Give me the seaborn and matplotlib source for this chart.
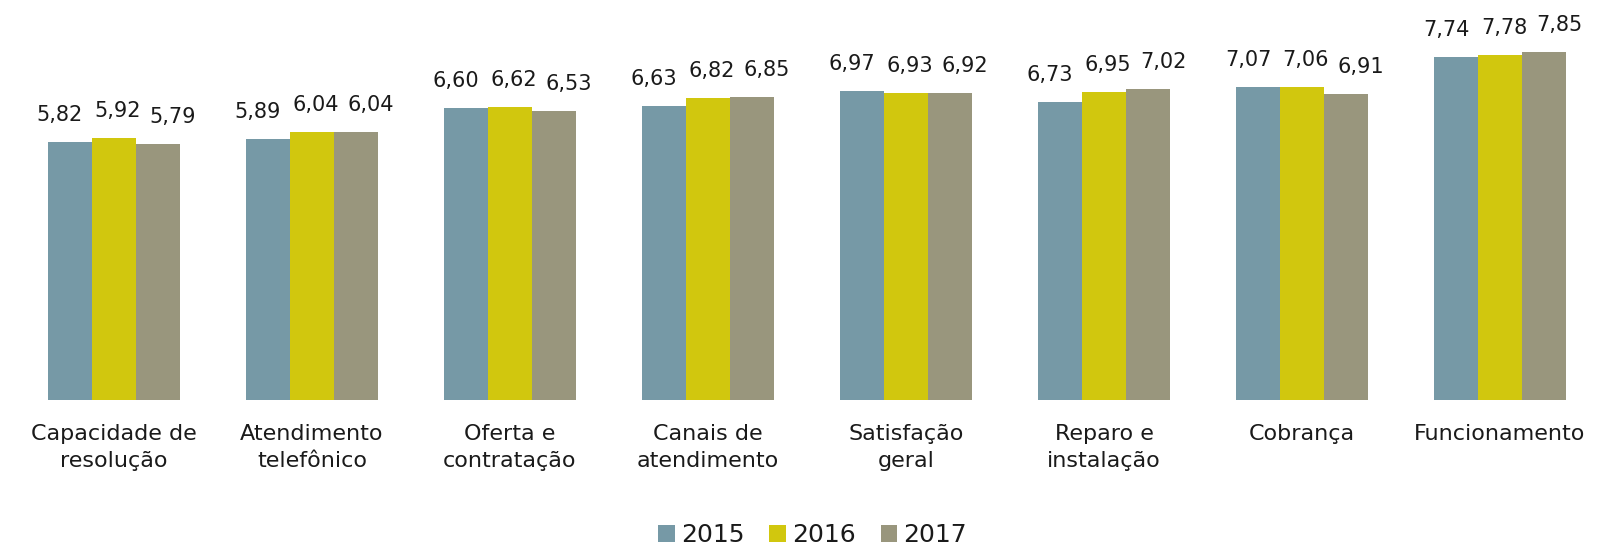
import matplotlib
matplotlib.use("Agg")
import matplotlib.pyplot as plt
import seaborn as sns
import pandas as pd

categories = ["Capacidade de\nresolução", "Atendimento\ntelefônico", "Oferta e\ncontratação",
              "Canais de\natendimento", "Satisfação\ngeral", "Reparo e\ninstalação",
              "Cobrança", "Funcionamento"]
years = ["2015", "2016", "2017"]
v2015 = [5.82, 5.89, 6.60, 6.63, 6.97, 6.73, 7.07, 7.74]
v2016 = [5.92, 6.04, 6.62, 6.82, 6.93, 6.95, 7.06, 7.78]
v2017 = [5.79, 6.04, 6.53, 6.85, 6.92, 7.02, 6.91, 7.85]
colors = ["#7699A6", "#D1C70E", "#99967D"]

rows = []
for y, vals in zip(years, [v2015, v2016, v2017]):
    for c, v in zip(categories, vals):
        rows.append({"cat": c, "year": y, "val": v})
df = pd.DataFrame(rows)

sns.set_theme(style="white")
plt.rcParams["font.family"] = ["DejaVu Sans"]

fig = plt.figure(figsize=(16.06, 5.47), dpi=100)
ax = fig.add_axes([15/1606, 147/547, 1584/1606, 376.5/547])
sns.barplot(data=df, x="cat", y="val", hue="year", palette=colors, width=0.667,
            saturation=1, linewidth=0, ax=ax, legend=True)
ax.set_ylim(0, 8.5)
ax.set_xlim(-0.5, len(categories) - 0.5)

# horizontal nudges (pixels) applied to value labels to avoid overlap
nudges = [-10, 4, 15]
for cont, dx in zip(ax.containers, nudges):
    for bar, v in zip(cont.patches, cont.datavalues):
        ax.annotate(f"{v:.2f}".replace(".", ","),
                    xy=(bar.get_x() + bar.get_width() / 2, bar.get_height()),
                    xytext=(dx, 17), textcoords="offset pixels",
                    ha="center", va="bottom", fontsize=15, color="#1a1a1a")

ax.set_xlabel("")
ax.set_ylabel("")
ax.set_yticks([])
ax.tick_params(axis="x", length=0, labelsize=16, colors="#1a1a1a", pad=17)
for lbl in ax.get_xticklabels():
    lbl.set_linespacing(1.45)
for s in ax.spines.values():
    s.set_visible(False)
handles, labels = ax.get_legend_handles_labels()
ax.get_legend().remove()
fig.legend(handles, labels, loc="center", bbox_to_anchor=(0.506, 1 - 535/547), ncol=3,
           frameon=False, fontsize=18, handlelength=0.65, handleheight=0.65,
           handletextpad=0.25, columnspacing=1.0, labelcolor="#1a1a1a")
fig.savefig("out.png", dpi=100)
